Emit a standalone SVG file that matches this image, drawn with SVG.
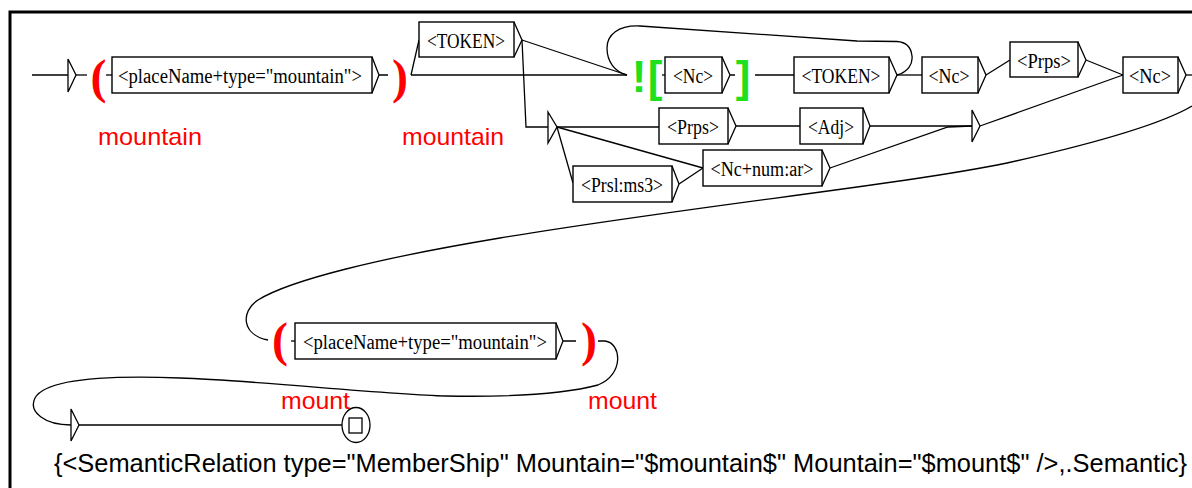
<svg xmlns="http://www.w3.org/2000/svg" width="1192" height="488" viewBox="0 0 1192 488">
<style>
.box{fill:#fff;stroke:#000;stroke-width:1.4}
.ln{fill:none;stroke:#000;stroke-width:1.3}
.lbl{font-family:"Liberation Serif","Times New Roman",serif;font-size:20px;fill:#000;text-anchor:middle}
.var{font-family:"Liberation Sans",Arial,sans-serif;font-size:24px;fill:#f00}
.par{font-family:"Liberation Serif","Times New Roman",serif;font-size:48px;font-weight:bold;fill:#f00;text-anchor:middle}
.grn{font-family:"Liberation Sans",Arial,sans-serif;font-size:44px;font-weight:bold;fill:#1ee01e;text-anchor:middle}
.out{font-family:"Liberation Sans",Arial,sans-serif;font-size:25px;fill:#000}
</style>
<rect width="1192" height="488" fill="#fff"/>
<path d="M10,488 V12 H1192" fill="none" stroke="#000" stroke-width="3"/>

<g id="connectors" class="ln">
<path d="M76,75 H87"/>
<path d="M411,75 L627,75"/>
<path d="M411,75 L419,40"/>
<path d="M522,40 L627,75"/>
<path d="M522,40 L526,127 L548,127"/>
<path d="M897,75 C908,72 913,64 912,56 C911,47 906,42 897,41.5 L857,41 L640,26 C618,25 607,35 607,48 C607,62 615,72 627,75"/>
<path d="M557,127 H659"/>
<path d="M557,127 L573,183"/>
<path d="M557,127 L703,168"/>
<path d="M679,184 L703,168"/>
<path d="M736,126 H800"/>
<path d="M870,126 H972"/>
<path d="M830,168 L948,127 L972,126"/>
<path d="M980,126 L1123,75"/>
<path d="M755,75 H794"/>
<path d="M897,75 H922"/>
<path d="M986,75 L1010,60"/>
<path d="M1086,60 L1123,75"/>
<path d="M1186,75 H1192"/>
<path d="M1192,106 C1165,122 1110,140 1007,163 C900,185 700,205 500,238 C380,258 290,280 258,300 C240,312 242,335 268,340"/>
<path d="M598,341 H605 C622,343 624,375 598,385 C560,395 500,397 446,396 C380,394 250,380 180,378 C100,375 45,380 35,398 C28,412 45,425 71,425"/>
<path d="M79,425 H342"/>
</g>

<g id="initial">
<path class="ln" d="M32,75 H68 M68,59 V92 L76,75 Z"/>
</g>

<g id="placeName1">
<text class="par" x="98.5" y="93">(</text>
<path class="ln" d="M106,75 H112"/>
<rect class="box" x="112" y="57" width="260" height="36"/>
<path class="ln" d="M372,57 L379,75 L372,93 M379,75 H388"/>
<text class="lbl" x="240" y="83" textLength="244" lengthAdjust="spacingAndGlyphs">&lt;placeName+type="mountain"&gt;</text>
<text class="par" x="400" y="93">)</text>
<text class="var" x="98" y="145" textLength="104" lengthAdjust="spacingAndGlyphs">mountain</text>
<text class="var" x="402" y="145" textLength="102" lengthAdjust="spacingAndGlyphs">mountain</text>
</g>

<g id="token1">
<rect class="box" x="419" y="22" width="95" height="35"/>
<path class="ln" d="M514,22 L522,40 L514,57"/>
<text class="lbl" x="466" y="47.5" textLength="78" lengthAdjust="spacingAndGlyphs">&lt;TOKEN&gt;</text>
</g>

<g id="negContext">
<text class="grn" x="639" y="92">!</text>
<text class="grn" x="655" y="92">[</text>
<path class="ln" d="M662,75 H665"/>
<rect class="box" x="665" y="57" width="57" height="36"/>
<path class="ln" d="M722,57 L730,75 L722,93 M730,75 H735"/>
<text class="lbl" x="693" y="83" textLength="40" lengthAdjust="spacingAndGlyphs">&lt;Nc&gt;</text>
<text class="grn" x="743" y="92">]</text>
</g>

<g id="token2">
<rect class="box" x="794" y="57" width="95" height="36"/>
<path class="ln" d="M889,57 L897,75 L889,93"/>
<text class="lbl" x="841" y="83" textLength="79" lengthAdjust="spacingAndGlyphs">&lt;TOKEN&gt;</text>
</g>

<g id="nc2">
<rect class="box" x="922" y="57" width="56" height="36"/>
<path class="ln" d="M978,57 L986,75 L978,93"/>
<text class="lbl" x="949" y="83" textLength="41" lengthAdjust="spacingAndGlyphs">&lt;Nc&gt;</text>
</g>

<g id="prps2">
<rect class="box" x="1010" y="42" width="68" height="35"/>
<path class="ln" d="M1078,42 L1086,60 L1078,77"/>
<text class="lbl" x="1044" y="67.5" textLength="54" lengthAdjust="spacingAndGlyphs">&lt;Prps&gt;</text>
</g>

<g id="nc3">
<rect class="box" x="1123" y="57" width="55" height="36"/>
<path class="ln" d="M1178,57 L1186,75 L1178,93"/>
<text class="lbl" x="1150" y="83" textLength="42" lengthAdjust="spacingAndGlyphs">&lt;Nc&gt;</text>
</g>

<g id="empty1">
<path class="ln" d="M548,112 V143 L557,127 Z"/>
</g>

<g id="prps1">
<rect class="box" x="659" y="108" width="69" height="36"/>
<path class="ln" d="M728,108 L736,126 L728,144"/>
<text class="lbl" x="693" y="134" textLength="52" lengthAdjust="spacingAndGlyphs">&lt;Prps&gt;</text>
</g>

<g id="adj">
<rect class="box" x="800" y="108" width="63" height="36"/>
<path class="ln" d="M863,108 L870,126 L863,144"/>
<text class="lbl" x="831" y="134" textLength="46" lengthAdjust="spacingAndGlyphs">&lt;Adj&gt;</text>
</g>

<g id="ncnum">
<rect class="box" x="703" y="150" width="119" height="36"/>
<path class="ln" d="M822,150 L830,168 L822,186"/>
<text class="lbl" x="762" y="176" textLength="103" lengthAdjust="spacingAndGlyphs">&lt;Nc+num:ar&gt;</text>
</g>

<g id="prsl">
<rect class="box" x="573" y="166" width="99" height="36"/>
<path class="ln" d="M672,166 L679,184 L672,202"/>
<text class="lbl" x="622" y="192" textLength="82" lengthAdjust="spacingAndGlyphs">&lt;Prsl:ms3&gt;</text>
</g>

<g id="empty2">
<path class="ln" d="M972,110 V142 L980,126 Z"/>
</g>

<g id="placeName2">
<text class="par" x="280" y="356">(</text>
<path class="ln" d="M291,341 H295"/>
<rect class="box" x="295" y="323" width="261" height="36"/>
<path class="ln" d="M556,323 L563,341 L556,359 M563,341 H576"/>
<text class="lbl" x="425" y="349" textLength="244" lengthAdjust="spacingAndGlyphs">&lt;placeName+type="mountain"&gt;</text>
<text class="par" x="589" y="356">)</text>
<text class="var" x="281" y="409" textLength="69" lengthAdjust="spacingAndGlyphs">mount</text>
<text class="var" x="588" y="409" textLength="69" lengthAdjust="spacingAndGlyphs">mount</text>
</g>

<g id="empty3">
<path class="ln" d="M71,409 V441 L79,425 Z"/>
</g>

<g id="final">
<ellipse class="ln" cx="356" cy="425" rx="14" ry="17.5"/>
<rect class="ln" x="349" y="418" width="13" height="15"/>
</g>

<g id="output">
<text class="out" x="54" y="472" textLength="1133" lengthAdjust="spacingAndGlyphs">{&lt;SemanticRelation type="MemberShip" Mountain="$mountain$" Mountain="$mount$" /&gt;,.Semantic}</text>
</g>
</svg>
